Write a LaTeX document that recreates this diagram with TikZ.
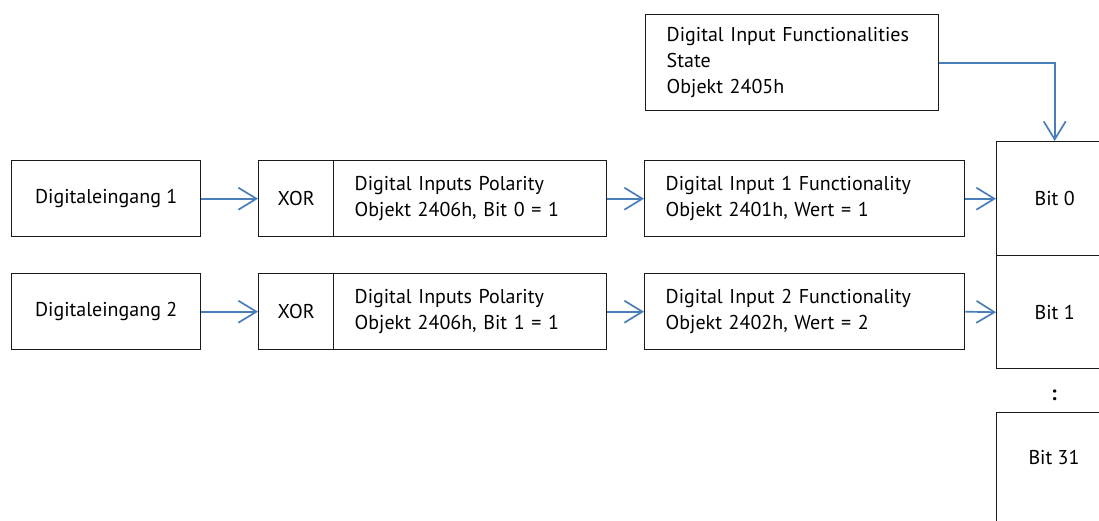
\documentclass[tikz,border=0pt]{standalone}
\usepackage{fontspec}
\setmainfont{PT Sans}
\usetikzlibrary{arrows.meta}
\definecolor{arrowblue}{HTML}{4A7EBB}
\definecolor{boxline}{HTML}{1A1A1A}
\tikzset{
  box/.style={draw=boxline, line width=1.4pt, anchor=north west, inner sep=0pt, font=\fontsize{20}{26}\selectfont},
  cbox/.style={box, align=center},
  lbox/.style={box, align=left, inner xsep=21pt},
  conn/.style={draw=arrowblue, line width=1.7pt, -{Straight Barb[length=18pt,width=22pt,line width=1.7pt]}},
  lbl/.style={inner sep=0pt, font=\fontsize{20}{26}\selectfont}
}
\begin{document}
\begin{tikzpicture}[x=1pt,y=-1pt]
\useasboundingbox (0,0) rectangle (1099,520);
\clip (0,0) rectangle (1099,520);
% top box
\node[lbox, minimum width=293pt, minimum height=96pt, text width=251pt] (top) at (645,14)
  {Digital Input Functionalities\\State\\Objekt 2405h};
% row 1
\node[cbox, minimum width=189pt, minimum height=76pt] (d1) at (11,160) {Digitaleingang 1};
\node[cbox, minimum width=75pt, minimum height=76pt] (x1) at (258,160) {XOR};
\node[lbox, minimum width=273pt, minimum height=76pt, text width=231pt] (p1) at (333,160)
  {Digital Inputs Polarity\\Objekt 2406h, Bit 0 = 1};
\node[lbox, minimum width=320pt, minimum height=76pt, text width=278pt] (f1) at (644,160)
  {Digital Input 1 Functionality\\Objekt 2401h, Wert = 1};
% row 2
\node[cbox, minimum width=189pt, minimum height=76pt] (d2) at (11,273) {Digitaleingang 2};
\node[cbox, minimum width=75pt, minimum height=76pt] (x2) at (258,273) {XOR};
\node[lbox, minimum width=273pt, minimum height=76pt, text width=231pt] (p2) at (333,273)
  {Digital Inputs Polarity\\Objekt 2406h, Bit 1 = 1};
\node[lbox, minimum width=320pt, minimum height=76pt, text width=278pt] (f2) at (644,273)
  {Digital Input 2 Functionality\\Objekt 2402h, Wert = 2};
% bit column
\node[cbox, minimum width=116pt, minimum height=114pt] (b0) at (996,141) {Bit 0};
\node[cbox, minimum width=116pt, minimum height=113pt] (b1) at (996,255) {Bit 1};
\node[lbl, font=\fontsize{21}{24}\selectfont\bfseries] (dots) at (1054,395) {:};
\node[box, minimum width=116pt, minimum height=120pt] (b31) at (996,412) {};
\node[lbl] (b31t) at (1054,457) {Bit 31};
% connectors
\draw[conn] (top.east) -| (b0.north);
\draw[conn] (d1.east) -- (x1.west);
\draw[conn] (p1.east) -- (f1.west);
\draw[conn] (f1.east) -- (b0.west);
\draw[conn] (d2.east) -- (x2.west);
\draw[conn] (p2.east) -- (f2.west);
\draw[conn] (f2.east) -- (b1.west);
\end{tikzpicture}
\end{document}
